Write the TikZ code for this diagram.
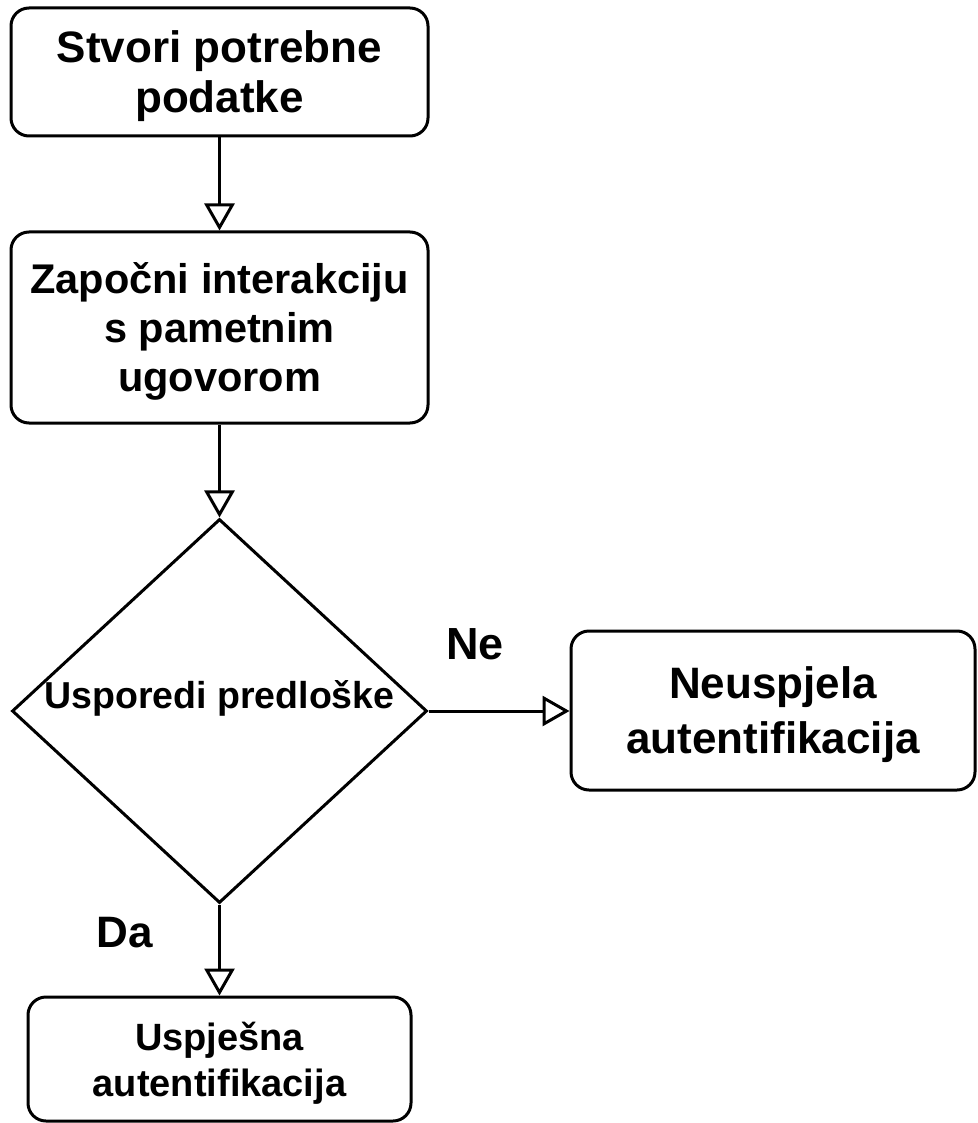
\documentclass[tikz,border=0pt]{standalone}
\usepackage{fontspec}
\setmainfont{Liberation Sans}
\usepackage{tikz}
\usetikzlibrary{positioning}
\usetikzlibrary{shapes.geometric,arrows.meta}
\newcommand{\flowfont}[2]{\bfseries\fontsize{#1}{#2}\selectfont}
\tikzstyle{box} = [draw, line width=3pt, rounded corners=18pt, inner sep=0pt, align=center, text depth=0pt]
\tikzstyle{decision} = [draw, diamond, line width=3pt, inner sep=0pt, minimum width=415pt, minimum height=384pt]
\tikzstyle{line} = [draw, line width=3pt, -{Triangle[open, length=27pt, width=30pt]}]
\tikzstyle{answer} = [anchor=base, font=\flowfont{45}{54}]

\begin{document}
\begin{tikzpicture}[x=1pt, y=-1pt]
	\useasboundingbox (0, 0) rectangle (977, 1123);

	% steps
	\node[box, minimum width=417pt, minimum height=128pt, font=\flowfont{44}{50}] (create) at (219.5, 72) {Stvori potrebne\\podatke};
	\node[box, minimum width=417pt, minimum height=191pt, font=\flowfont{41.5}{49}] (interact) at (219.5, 327.5) {Započni interakciju\\s pametnim\\ugovorom};

	% check
	\node[decision] (compare) at (219.5, 711) {};
	\node[anchor=base, font=\flowfont{37.5}{45}] (comparetext) at (219.5, 708) {Usporedi predloške};

	% results
	\node[box, minimum width=404pt, minimum height=159pt, font=\flowfont{44}{55}] (fail) at (773, 710.5) {Neuspjela\\autentifikacija};
	\node[box, minimum width=383pt, minimum height=124pt, font=\flowfont{38}{46}] (success) at (219.5, 1059) {Uspješna\\autentifikacija};

	\node[answer] (no) at (475, 659) {Ne};
	\node[answer, font=\flowfont{44}{53}] (yes) at (125, 947) {Da};

	\path[line] (create) -- (interact);
	\path[line] (interact) -- (compare);
	\path[line] (compare.east) -- (compare.east -| fail.west);
	\path[line] (compare) -- (success);
\end{tikzpicture}
\end{document}
